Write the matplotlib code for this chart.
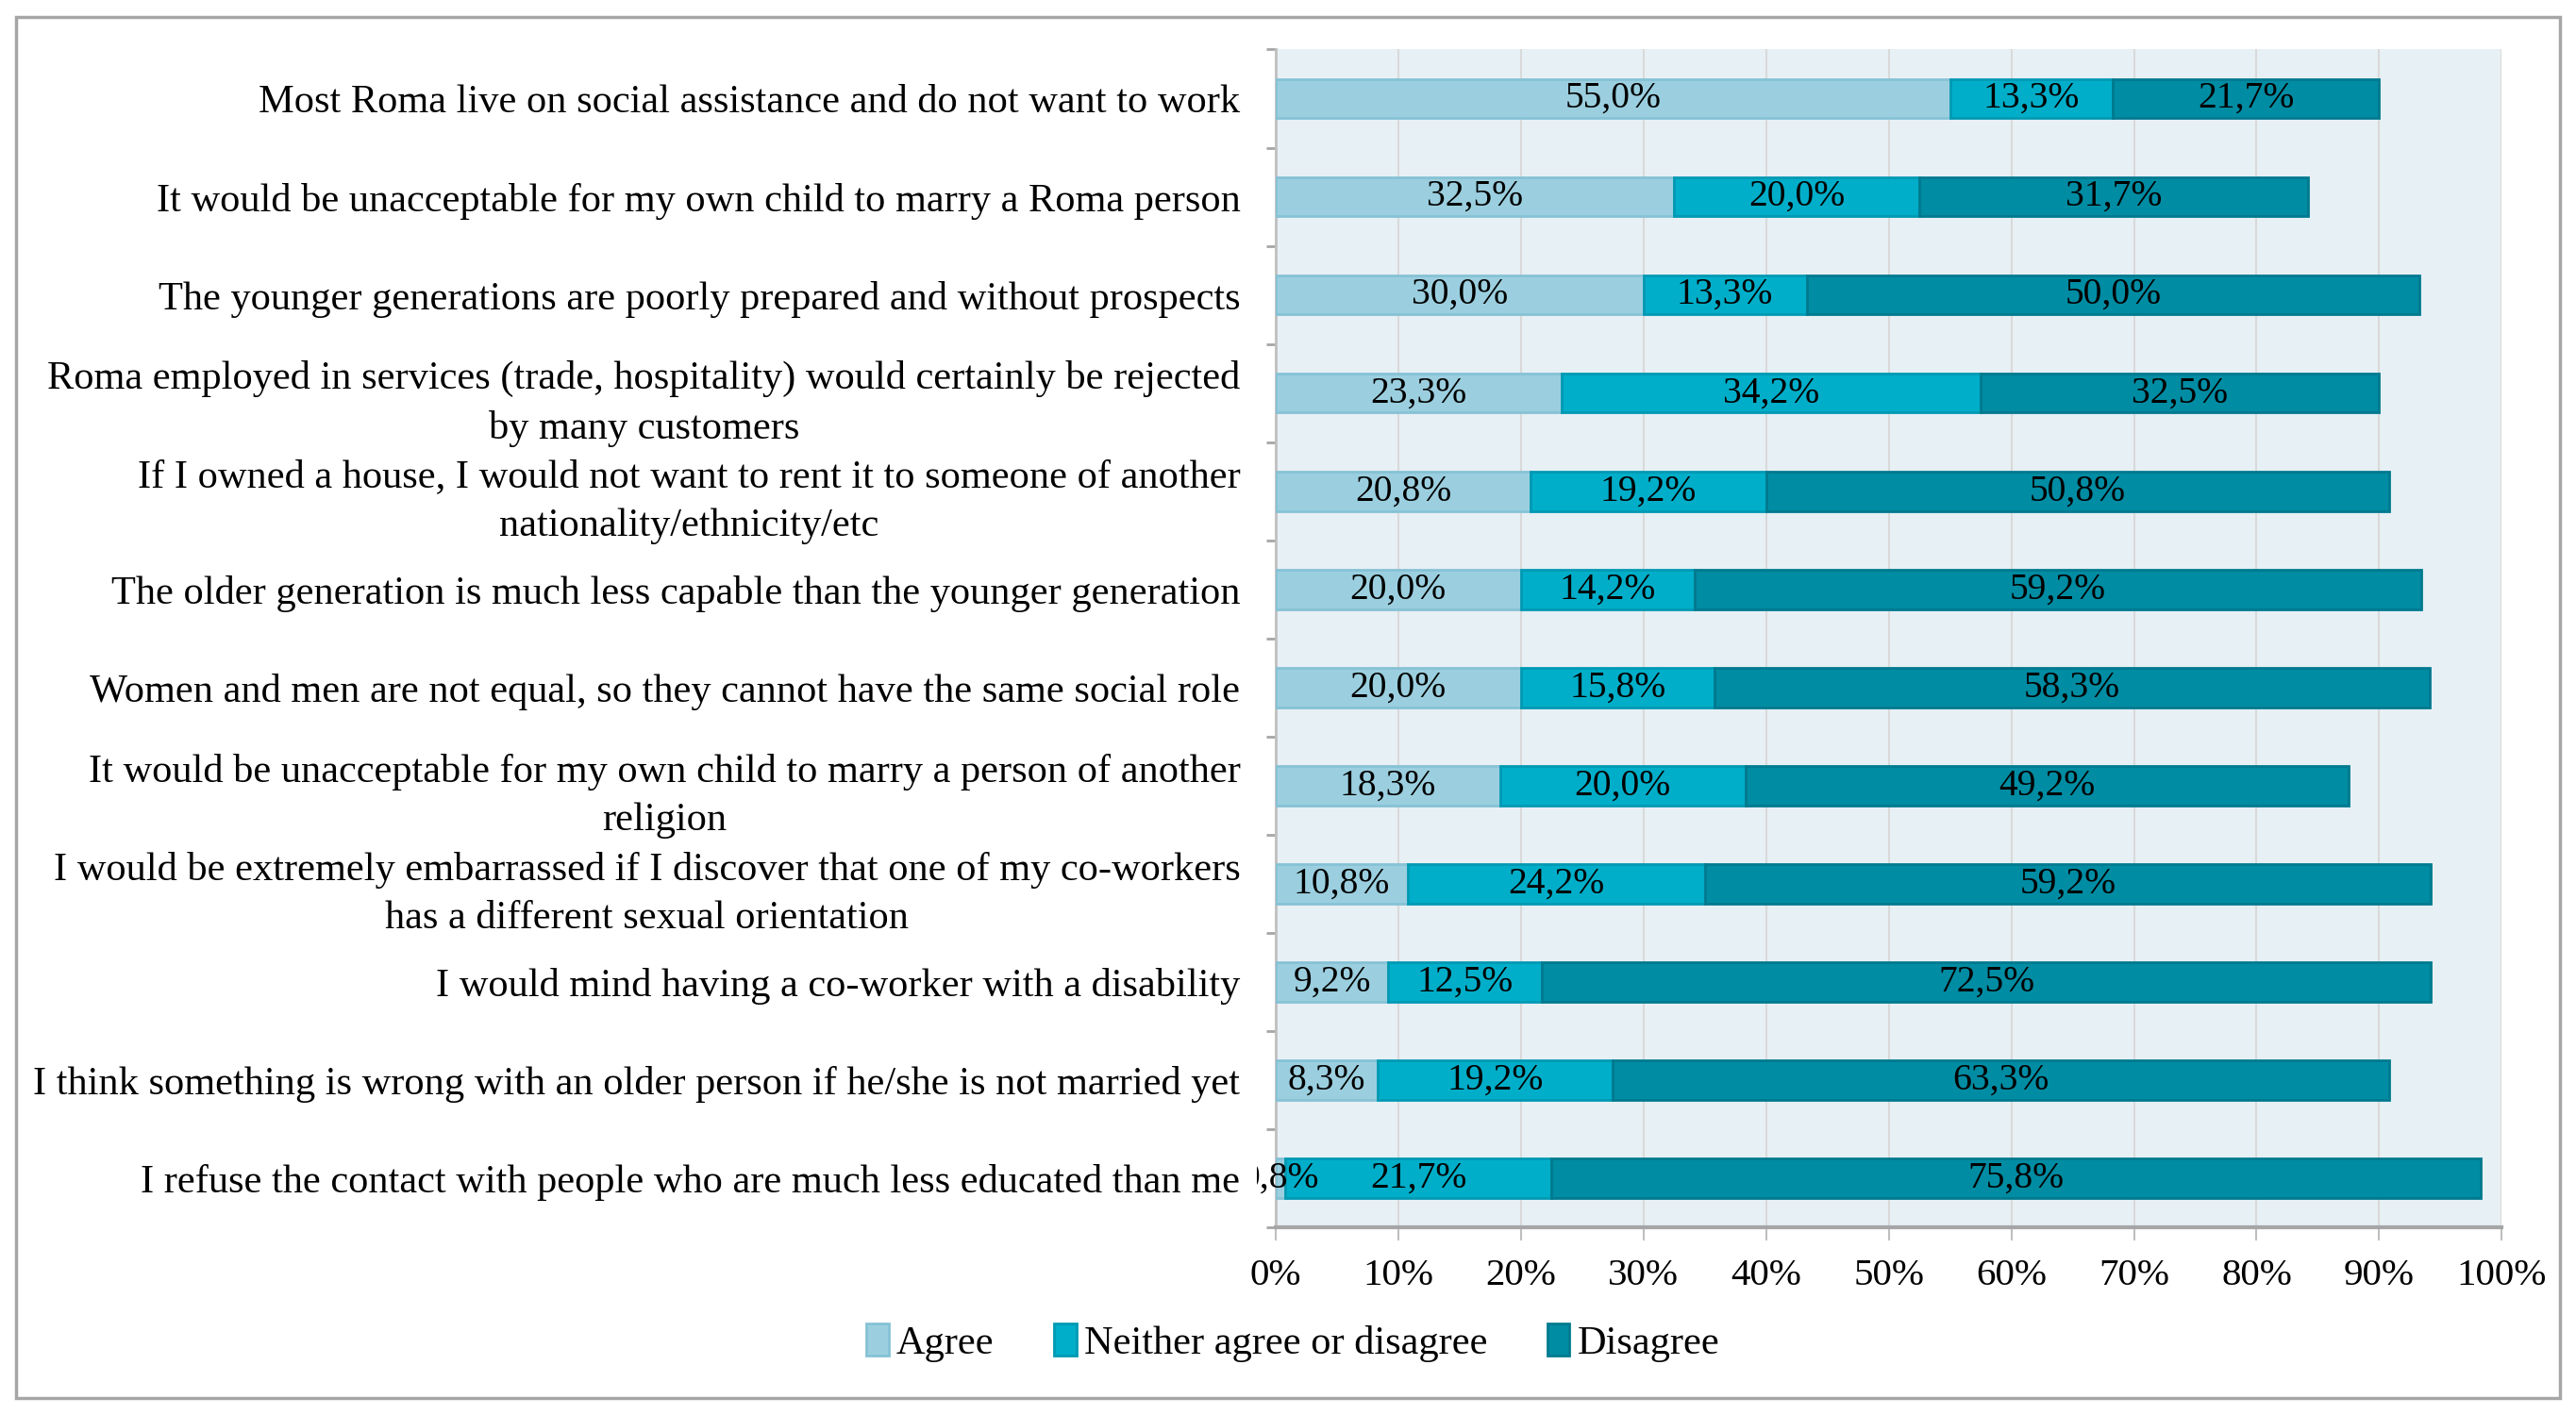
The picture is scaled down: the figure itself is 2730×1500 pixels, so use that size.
import numpy as np
import matplotlib.pyplot as plt
from matplotlib.patches import Rectangle

##### Data #####
statements = [
    'Most Roma live on social assistance and do not want to work',
    'It would be unacceptable for my own child to marry a Roma person',
    'The younger generations are poorly prepared and without prospects',
    'Roma employed in services (trade, hospitality) would certainly be rejected\nby many customers',
    'If I owned a house, I would not want to rent it to someone of another\nnationality/ethnicity/etc',
    'The older generation is much less capable than the younger generation',
    'Women and men are not equal, so they cannot have the same social role',
    'It would be unacceptable for my own child to marry a person of another\nreligion',
    'I would be extremely embarrassed if I discover that one of my co-workers\nhas a different sexual orientation',
    'I would mind having a co-worker with a disability',
    'I think something is wrong with an older person if he/she is not married yet',
    'I refuse the contact with people who are much less educated than me',
]
agree    = [55.0, 32.5, 30.0, 23.3, 20.8, 20.0, 20.0, 18.3, 10.8, 9.2, 8.3, 0.8]
neither  = [13.3, 20.0, 13.3, 34.2, 19.2, 14.2, 15.8, 20.0, 24.2, 12.5, 19.2, 21.7]
disagree = [21.7, 31.7, 50.0, 32.5, 50.8, 59.2, 58.3, 49.2, 59.2, 72.5, 63.3, 75.8]
series_names = ['Agree', 'Neither agree or disagree', 'Disagree']
colors = ['#9BCFDF', '#00AEC9', '#008CA3']
edges = ['#86C2D5', '#0099B3', '#007A8F']
xticks = np.arange(0, 101, 10)
########################

plt.rcParams['font.family'] = ['Liberation Serif', 'DejaVu Serif']
fs = 30.5      # category labels
fs_val = 28.5  # data labels / ticks

fig = plt.figure(figsize=(27.3, 15), dpi=100)
ax = fig.add_axes([0.4952, 0.1326, 0.476, 0.8324])
ax.set_facecolor('#E7F0F5')

# outer frame
fig.patches.append(Rectangle((0.0064, 0.012), 0.9872, 0.976, transform=fig.transFigure,
                             fill=False, edgecolor='#A6A6A6', linewidth=2.5))

y = np.arange(len(statements))
left = np.zeros(len(statements))
for vals, name, c, ec in zip([agree, neither, disagree], series_names, colors, edges):
    vals = np.array(vals)
    ax.barh(y, vals, left=left, height=0.4, color=c, edgecolor=ec, linewidth=2,
            label=name, zorder=3)
    for yi, l, v in zip(y, left, vals):
        t = ax.text(l + v / 2, yi, ('%.1f%%' % v).replace('.', ','), ha='center',
                    va='center', fontsize=fs_val, color='black', zorder=4)
        # small label spills over the axis, part of it is hidden like in excel
        clip = Rectangle((-0.0155, 0), 1.1, 1, transform=ax.transAxes)
        t.set_clip_path(clip)
        t.set_clip_on(True)
    left = left + vals

ax.set_xlim(0, 100)
ax.set_ylim(len(statements) - 0.5, -0.5)
ax.set_xticks(xticks)
ax.set_xticklabels([str(v) + '%' for v in xticks], fontsize=fs_val + 1)
ax.set_yticks(y)
ax.set_yticklabels(statements, fontsize=fs)
for lab in ax.get_yticklabels():
    lab.set_multialignment('center')
    lab.set_linespacing(1.45)
ax.set_yticks(np.arange(-0.5, len(statements), 1), minor=True)
ax.tick_params(axis='y', which='major', length=0, pad=27)
ax.tick_params(axis='y', which='minor', length=7, width=2, color='#A6A6A6')
ax.tick_params(axis='x', length=10, width=1.5, color='#BFBFBF', pad=14)

ax.grid(axis='x', color='#D9D9D9', linewidth=1.5, zorder=0)
ax.set_axisbelow(True)
for s in ['top', 'right']:
    ax.spines[s].set_visible(False)
ax.spines['left'].set_color('#BFBFBF')
ax.spines['left'].set_linewidth(2)
ax.spines['bottom'].set_color('#A6A6A6')
ax.spines['bottom'].set_linewidth(3)

fig.legend(loc='center', bbox_to_anchor=(0.502, 0.051), ncol=3, frameon=False,
           fontsize=fs, handlelength=0.55, handleheight=0.85, handletextpad=0.2,
           columnspacing=1.5)

plt.savefig('out.png')
